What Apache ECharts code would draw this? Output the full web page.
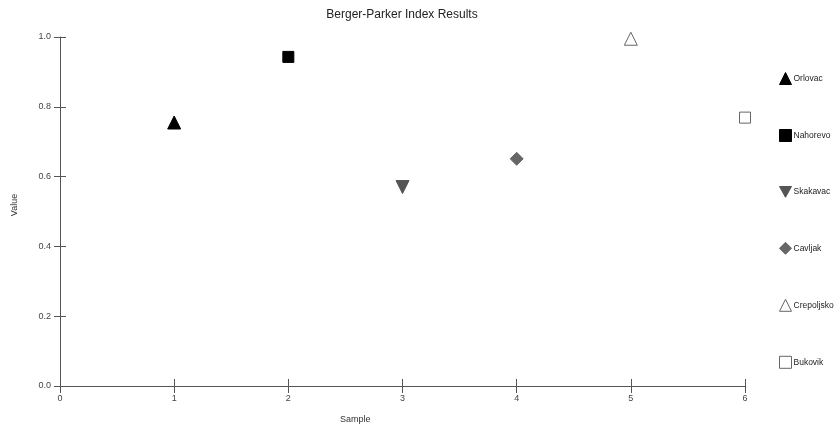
<!DOCTYPE html>
<html>
<head>
<meta charset="utf-8">
<script src="https://cdn.jsdelivr.net/npm/echarts@6/dist/echarts.min.js"></script>
<style>html,body{margin:0;padding:0;background:#fff}#c{width:837px;height:429px}</style>
</head>
<body>
<div id="c"></div>
<script>
var seriesNames = ['Orlovac', 'Nahorevo', 'Skakavac', 'Cavljak', 'Crepoljsko', 'Bukovik'];
var sampleX = [1, 2, 3, 4, 5, 6];
var values = [0.755, 0.943, 0.570, 0.651, 0.995, 0.769];
var xTicks = [0, 1, 2, 3, 4, 5, 6];
var yTicks = [0.0, 0.2, 0.4, 0.6, 0.8, 1.0];

var downTri = 'path://M0,0 L10,0 L5,9 Z';
var styles = [
  {symbol: 'triangle', icon: 'triangle', rot: 0, fill: '#000', border: '#000'},
  {symbol: 'rect', icon: 'rect', rot: 0, fill: '#000', border: '#000'},
  {symbol: 'triangle', icon: downTri, rot: 180, fill: '#555', border: '#555'},
  {symbol: 'diamond', icon: 'diamond', rot: 0, fill: '#666', border: '#666'},
  {symbol: 'triangle', icon: 'triangle', rot: 0, fill: '#fff', border: '#666'},
  {symbol: 'rect', icon: 'rect', rot: 0, fill: '#fff', border: '#666'}
];

var series = seriesNames.map(function (n, i) {
  var s = styles[i];
  return {
    name: n, type: 'scatter', xAxisIndex: 0, yAxisIndex: 0,
    symbol: s.symbol, symbolRotate: s.rot,
    symbolSize: s.symbol === 'rect' ? 11 : 13,
    itemStyle: {color: s.fill, borderColor: s.border, borderWidth: 1, opacity: 1},
    data: [[sampleX[i], values[i]]]
  };
});

var legendData = seriesNames.map(function (n, i) {
  return {name: n, icon: styles[i].icon,
    itemStyle: {color: styles[i].fill, borderColor: styles[i].border, borderWidth: 1, opacity: 1}};
});

var axisLineStyle = {color: '#555', width: 1};
var labelStyle = {color: '#444', fontSize: 9, fontFamily: 'Liberation Sans'};
var grid = {left: 60, right: 92, top: 37, bottom: 43};

var chart = echarts.init(document.getElementById('c'));
chart.setOption({
  animation: false,
  backgroundColor: '#fff',
  title: {text: 'Berger-Parker Index Results', left: 397, top: 4, textAlign: 'center',
    textStyle: {fontSize: 12, fontWeight: 'normal', color: '#222', fontFamily: 'Liberation Sans'}},
  grid: grid,
  xAxis: [
    {type: 'value', min: xTicks[0], max: xTicks[xTicks.length - 1], interval: 1,
      axisLine: {lineStyle: axisLineStyle}, splitLine: {show: false},
      axisTick: {show: true, length: 7, inside: false, lineStyle: axisLineStyle},
      axisLabel: {margin: 8, ...labelStyle}},
    {type: 'value', min: xTicks[0], max: xTicks[xTicks.length - 1], interval: 1, position: 'bottom',
      axisLine: {show: false}, splitLine: {show: false}, axisLabel: {show: false},
      axisTick: {show: true, length: 7, inside: true, lineStyle: axisLineStyle}}
  ],
  yAxis: [
    {type: 'value', min: yTicks[0], max: yTicks[yTicks.length - 1], interval: 0.2,
      axisLine: {show: true, lineStyle: axisLineStyle}, splitLine: {show: false},
      axisTick: {show: true, length: 6, inside: false, lineStyle: axisLineStyle},
      axisLabel: {margin: 9, formatter: function (v) { return v.toFixed(1); }, ...labelStyle}},
    {type: 'value', min: yTicks[0], max: yTicks[yTicks.length - 1], interval: 0.2, position: 'left',
      axisLine: {show: false}, splitLine: {show: false}, axisLabel: {show: false},
      axisTick: {show: true, length: 6, inside: true, lineStyle: axisLineStyle}}
  ],
  legend: {
    orient: 'vertical', left: 774, top: 67, itemGap: 44, itemWidth: 12, itemHeight: 12,
    selectedMode: false,
    textStyle: {fontSize: 8.5, color: '#222', fontFamily: 'Liberation Sans', padding: [0, 0, 0, -3]},
    data: legendData
  },
  graphic: [
    {type: 'text', left: 340, top: 415, style: {text: 'Sample', fontSize: 9, fill: '#333', fontFamily: 'Liberation Sans'}},
    {type: 'text', x: 15, y: 205, rotation: Math.PI / 2, style: {text: 'Value', fontSize: 9, fill: '#333', fontFamily: 'Liberation Sans', align: 'center', verticalAlign: 'middle'}}
  ],
  series: series
});
</script>
</body>
</html>
